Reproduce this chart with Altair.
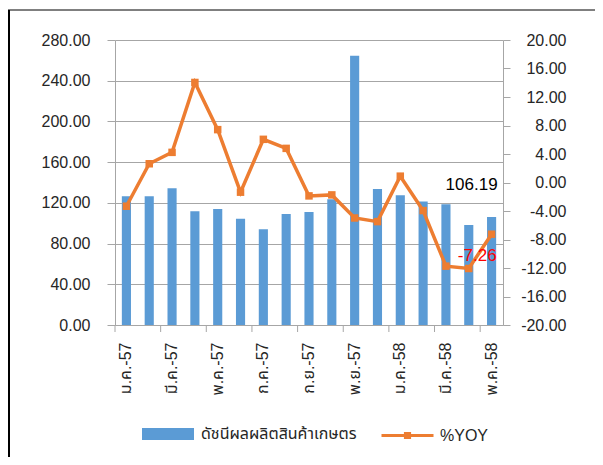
import altair as alt
import pandas as pd

categories = ["ม.ค.-57", "ก.พ.-57", "มี.ค.-57", "เม.ย.-57", "พ.ค.-57", "มิ.ย.-57",
              "ก.ค.-57", "ส.ค.-57", "ก.ย.-57", "ต.ค.-57", "พ.ย.-57", "ธ.ค.-57",
              "ม.ค.-58", "ก.พ.-58", "มี.ค.-58", "เม.ย.-58", "พ.ค.-58"]
index_values = [126.5, 126.5, 134.4, 111.7, 114.0, 104.5, 94.0, 109.1, 111.1,
                123.6, 264.5, 133.7, 127.5, 121.3, 118.6, 98.3, 106.19]
yoy_values = [-3.33, 2.63, 4.23, 14.04, 7.42, -1.36, 6.06, 4.79, -1.88,
              -1.74, -4.98, -5.49, 0.89, -3.94, -11.74, -12.07, -7.26]
left_ticks = [0, 40, 80, 120, 160, 200, 240, 280]
right_ticks = [-20, -16, -12, -8, -4, 0, 4, 8, 12, 16, 20]
bar_name = "ดัชนีผลผลิตสินค้าเกษตร"
line_name = "%YOY"

BLUE = "#5B9BD5"
ORANGE = "#ED7D31"
GRID = "#a6a6a6"
TXT = "#262626"
FONT = "Liberation Sans, Noto Sans Thai, DejaVu Sans, sans-serif"

W, H = 388, 285
STEP = W / len(categories)

df = pd.DataFrame({"cat": categories, "value": index_values, "yoy": yoy_values,
                   "s_bar": bar_name, "s_line": line_name})
df["value_txt"] = [f"{v:.2f}" for v in index_values]
df["yoy_txt"] = [f"{v:.2f}" for v in yoy_values]
last = df.tail(1)
tick_df = pd.DataFrame({"cat": categories[::2]})
one = pd.DataFrame({"a": [0]})

xscale = alt.Scale(domain=categories, paddingInner=0.6, paddingOuter=0.3)
xaxis = alt.Axis(values=categories[::2], labelAngle=-90, labelAlign="right",
                 labelBaseline="middle", ticks=False, labelPadding=17,
                 domainColor=GRID, labelFontSize=16, labelColor=TXT,
                 labelFont=FONT, title=None, grid=False, labelOverlap=False)


def xenc(**kw):
    return alt.X("cat:N", scale=xscale, axis=xaxis, **kw)


yl_scale = alt.Scale(domain=[0, 280], nice=False)
yl_axis = alt.Axis(values=left_ticks, format=".2f", title=None,
                   grid=True, gridColor=GRID, domainColor=GRID,
                   tickColor=GRID, tickSize=8, labelPadding=17,
                   labelOverlap=False, tickCount=8,
                   labelFontSize=16, labelColor=TXT, labelFont=FONT)


def yleft():
    return alt.Y("value:Q", scale=yl_scale, axis=yl_axis)


yr_scale = alt.Scale(domain=[-20, 20], nice=False)
yr_axis = alt.Axis(orient="right", values=right_ticks, title=None, tickCount=11,
                   labelExpr="replace(format(datum.value, '.2f'), '\u2212', '-')",
                   grid=False, domainColor=GRID, labelOverlap=False,
                   tickColor=GRID, tickSize=7, labelPadding=56,
                   labelAlign="right", labelBound=False,
                   labelFontSize=16, labelColor=TXT, labelFont=FONT)


def yright():
    return alt.Y("yoy:Q", scale=yr_scale, axis=yr_axis)


bars = alt.Chart(df).mark_bar(color=BLUE).encode(
    x=xenc(),
    y=yleft(),
    fill=alt.Fill("s_bar:N", scale=alt.Scale(domain=[bar_name], range=[BLUE]),
                  legend=alt.Legend(orient="none", legendX=27, legendY=368,
                                    title=None,
                                    symbolType="M-1,-0.23H1V0.23H-1Z",
                                    symbolSize=2704, symbolStrokeWidth=0,
                                    labelFontSize=16, labelColor=TXT,
                                    labelFont=FONT, labelOffset=7)),
)

bar_label = alt.Chart(last).mark_text(align="right", baseline="middle", dx=6,
                                      dy=-32, fontSize=17, color="#000000",
                                      font=FONT).encode(
    x=xenc(), y=yleft(), text="value_txt:N")

xticks = alt.Chart(tick_df).mark_rule(color=GRID, strokeWidth=1,
                                      xOffset=-0.3 * STEP).encode(
    x=xenc(bandPosition=0), y=alt.value(H), y2=alt.value(H + 7))

frame_left = alt.Chart(one).mark_rule(color="#000000", strokeWidth=2).encode(
    x=alt.value(-106), y=alt.value(-30), y2=alt.value(420))
frame_top = alt.Chart(one).mark_rule(color="#000000", strokeWidth=1).encode(
    x=alt.value(-107), x2=alt.value(480), y=alt.value(-30))

left = alt.layer(bars, bar_label, xticks, frame_left, frame_top)

line = alt.Chart(df).mark_line(strokeWidth=3.5).encode(
    x=xenc(), y=yright(),
    stroke=alt.Stroke("s_line:N",
                      scale=alt.Scale(domain=[line_name], range=[ORANGE]),
                      legend=alt.Legend(orient="none", legendX=265, legendY=368,
                                        title=None,
                                        symbolType="M-1,0H1M-0.08,-0.08H0.08V0.08H-0.08Z",
                                        symbolSize=2704, symbolStrokeWidth=3,
                                        symbolFillColor=ORANGE,
                                        labelFontSize=16, labelColor=TXT,
                                        labelFont=FONT, labelOffset=5)),
)
squares = alt.Chart(df).mark_square(size=56, color=ORANGE, opacity=1).encode(
    x=xenc(), y=yright())
line_label = alt.Chart(last).mark_text(align="right", baseline="middle", dx=5,
                                       dy=22, fontSize=17, color="#FF0000",
                                       font=FONT).encode(
    x=xenc(), y=yright(), text="yoy_txt:N")

right = alt.layer(line, squares, line_label)

chart = alt.layer(left, right).resolve_scale(
    y="independent", fill="independent", stroke="independent"
).properties(
    width=W, height=H, autosize=alt.AutoSizeParams(type="none"),
    padding={"left": 107, "top": 32, "right": 92, "bottom": 132},
    background="white",
).configure_view(stroke=None)

chart.save("out.html", embed_options={"renderer": "svg", "actions": False})
